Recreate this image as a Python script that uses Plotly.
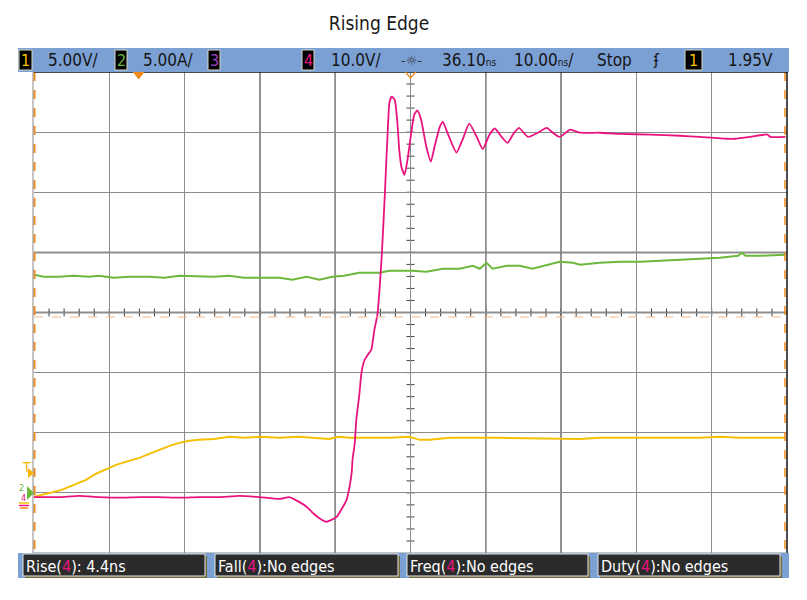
import plotly.graph_objects as go

# ---------------- data (time in ns, volts / amps) ----------------
TIME_CENTER = 36.1      # ns (horizontal position)
TIME_PER_DIV = 10.0     # ns/div
CH1_SCALE = 5.0         # V/div
CH2_SCALE = 5.0         # A/div
CH4_SCALE = 10.0        # V/div
GROUND_DIV = -3         # ground reference, divisions from centre

ch4_t = [-13.9, -10.6, -7.9, -5.3, -2.6, 0.1, 2.7, 5.4, 8.0, 10.7, 13.4, 16.0, 18.7, 20.0,
         21.3, 22.3, 23.1, 24.0, 24.9, 25.6, 26.3, 26.9, 27.6, 28.0, 28.3, 28.4, 28.7, 28.9,
         29.3, 29.6, 30.0, 30.5, 30.9, 31.3, 31.7, 32.3, 32.7, 33.1, 33.3, 33.6, 34.0, 34.4,
         34.6, 34.9, 35.3, 35.7, 36.2, 36.6, 37.0, 37.5, 38.2, 38.8, 39.3, 40.0, 40.4, 41.0,
         42.2, 43.0, 43.9, 44.9, 45.7, 46.6, 47.3, 48.2, 49.0, 49.7, 50.5, 51.7, 53.0, 54.2,
         55.0, 55.9, 57.3, 58.6, 61.2, 63.9, 67.9, 71.9, 74.5, 78.1, 79.2, 81.2, 83.5, 83.9, 85.9]
ch4_v = [-0.7, -0.7, -0.5, -0.7, -0.8, -0.7, -0.7, -0.8, -0.7, -0.7, -0.5, -0.7, -1.0, -0.7,
         -1.5, -2.3, -3.3, -4.2, -4.8, -4.5, -4.0, -2.8, -1.2, 1.0, 3.5, 5.5, 8.3, 12.1,
         16.3, 20.1, 22.1, 23.1, 23.8, 27.1, 29.6, 39.9, 49.9, 60.9, 64.9, 65.9, 65.4, 60.9,
         57.1, 54.2, 52.9, 55.4, 59.9, 62.9, 63.6, 62.1, 57.6, 55.1, 57.6, 60.9, 61.7, 59.9,
         56.6, 58.7, 61.4, 59.2, 57.2, 59.6, 60.6, 59.2, 58.2, 59.6, 60.7, 59.2, 59.9, 60.7,
         59.9, 59.2, 60.4, 59.9, 59.9, 59.7, 59.6, 59.4, 59.2, 58.9, 58.9, 59.2, 59.6, 59.2, 59.2]

ch1_t = [-13.9, -11.9, -10.2, -8.3, -7.0, -5.7, -4.3, -3.0, -1.3, 0.1, 1.4, 2.7, 4.1, 5.4,
         6.7, 8.0, 10.0, 12.0, 14.0, 16.0, 18.7, 21.3, 24.0, 25.3, 26.6, 28.0, 30.7, 33.3,
         36.0, 37.3, 38.6, 41.3, 47.9, 54.6, 58.6, 61.2, 67.9, 74.5, 77.2, 79.9, 82.5, 85.9]
ch1_v = [-0.33, 0.0, 0.25, 0.75, 1.08, 1.58, 2.0, 2.33, 2.66, 2.91, 3.24, 3.58, 3.91, 4.16,
         4.33, 4.41, 4.49, 4.66, 4.58, 4.66, 4.58, 4.66, 4.58, 4.49, 4.66, 4.58, 4.58, 4.58,
         4.66, 4.41, 4.41, 4.58, 4.58, 4.49, 4.49, 4.58, 4.58, 4.58, 4.66, 4.58, 4.58, 4.58]

ch2_t = [-13.9, -12.6, -10.6, -8.6, -6.6, -5.3, -3.3, -1.3, 1.4, 3.4, 5.4, 8.0, 10.0, 12.0,
         14.0, 16.0, 18.7, 20.4, 22.3, 24.0, 25.7, 27.3, 29.3, 32.0, 33.3, 36.4, 38.2, 40.4,
         42.6, 44.4, 45.3, 46.2, 47.0, 48.9, 50.6, 52.3, 54.2, 55.9, 57.7, 58.6, 61.2, 63.9,
         66.6, 69.2, 71.9, 74.5, 77.2, 79.6, 80.1, 80.6, 82.5, 85.9]
ch2_i = [18.14, 17.97, 17.97, 18.05, 17.97, 18.05, 17.89, 17.97, 17.97, 17.89, 18.05, 17.97, 17.97, 18.05,
         17.89, 17.89, 17.89, 17.72, 17.97, 17.72, 17.97, 18.05, 18.30, 18.30, 18.47, 18.47, 18.39, 18.64,
         18.64, 18.89, 18.64, 19.13, 18.64, 18.89, 18.89, 18.64, 18.97, 19.22, 19.13, 18.97, 19.13, 19.22,
         19.22, 19.30, 19.38, 19.47, 19.55, 19.72, 19.97, 19.72, 19.72, 19.80]

TRIGGER_TIME = 0.0
TRIGGER_LEVEL = 1.95

top_labels = ["5.00V/", "5.00A/", "10.0V/", "36.10", "10.00", "Stop", "1.95V"]
meas_labels = ["Rise", "Fall", "Freq", "Duty"]
meas_values = [": 4.4ns", ":No edges", ":No edges", ":No edges"]

# ---------------- styling ----------------
C1 = "#f5c000"
C2 = "#6cb83c"
C3 = "#a040c0"
C4 = "#e8137f"
ORANGE = "#f08a1c"
BLUE = "#7ba0d4"
FONT = "Liberation Sans Narrow, DejaVu Sans Condensed, Arial Narrow, sans-serif"

# screen coordinates (page body has an 8px margin)
OFF = 8
W, H = 807 - 2 * OFF, 600 - 2 * OFF
L, R, T, B = 34, 787, 72, 553


def px(x):
    return (x - L) / (R - L)


def py(y):
    return (B - y) / (B - T)


x_lo = TIME_CENTER - 5 * TIME_PER_DIV
x_hi = TIME_CENTER + 5 * TIME_PER_DIV


def yrange(scale):
    return [(-4 - GROUND_DIV) * scale, (4 - GROUND_DIV) * scale]


fig = go.Figure()
fig.add_trace(go.Scatter(x=ch1_t, y=ch1_v, mode="lines", yaxis="y",
                         line=dict(color=C1, width=2), hoverinfo="skip"))
fig.add_trace(go.Scatter(x=ch2_t, y=ch2_i, mode="lines", yaxis="y2",
                         line=dict(color=C2, width=2), hoverinfo="skip"))
fig.add_trace(go.Scatter(x=ch4_t, y=ch4_v, mode="lines", yaxis="y3",
                         line=dict(color=C4, width=1.8, shape="spline", smoothing=0.5),
                         hoverinfo="skip"))

shapes = []
annotations = []


def prect(x0, y0, x1, y1, fill, line=None, lw=0):
    shapes.append(dict(type="rect", xref="paper", yref="paper",
                       x0=px(x0), x1=px(x1), y0=py(y1), y1=py(y0),
                       fillcolor=fill, line=dict(color=line or fill, width=lw), layer="above"))


def pline(x0, y0, x1, y1, color, w=1, dash=None):
    shapes.append(dict(type="line", xref="paper", yref="paper",
                       x0=px(x0), x1=px(x1), y0=py(y0), y1=py(y1),
                       line=dict(color=color, width=w, dash=dash), layer="above"))


def ptext(x, y, text, color="#151515", size=17, xanchor="left", family=FONT):
    annotations.append(dict(xref="paper", yref="paper", x=px(x), y=py(y), text=text,
                            showarrow=False, xanchor=xanchor, yanchor="middle",
                            font=dict(family=family, size=size, color=color)))


# dark graticule lines
c1 = yrange(CH1_SCALE)
for k in [3, 4, 6, 7]:
    xv = x_lo + k * TIME_PER_DIV
    shapes.append(dict(type="line", xref="x", yref="paper", x0=xv, x1=xv, y0=0, y1=1,
                       line=dict(color="#2a2a2a", width=1.2), layer="below"))
for k in [4, 5]:
    yv = c1[0] + k * CH1_SCALE
    shapes.append(dict(type="line", xref="paper", yref="y", x0=0, x1=1, y0=yv, y1=yv,
                       line=dict(color="#2a2a2a", width=1.5), layer="below"))

# minor ticks on centre lines
yc = (c1[0] + c1[1]) / 2
dy = 4 * (c1[1] - c1[0]) / (B - T)
dx = 4 * (x_hi - x_lo) / (R - L)
for k in range(1, 50):
    xv = x_lo + k * TIME_PER_DIV / 5
    shapes.append(dict(type="line", xref="x", yref="y", x0=xv, x1=xv, y0=yc - dy, y1=yc + dy,
                       line=dict(color="#444", width=1), layer="below"))
for k in range(1, 40):
    yv = c1[0] + k * CH1_SCALE / 5
    shapes.append(dict(type="line", xref="x", yref="y", x0=TIME_CENTER - dx, x1=TIME_CENTER + dx,
                       y0=yv, y1=yv, line=dict(color="#444", width=1), layer="below"))

# cursors
pline(34.5, T, 34.5, B, ORANGE, 2, "dash")
pline(785, T, 785, B, ORANGE, 1.5, "dash")
pline(L, 317, R, 317, "#f5b98a", 1.2, "dash")

# frame
pline(L, T, R + 1, T, "#111", 1.5)
pline(R, T, R, B, "#111", 1.5)
pline(L, B, R, B, "#888", 1)
pline(33, T, 33, B, "#888", 1)

# top marker triangles
shapes.append(dict(type="path", xref="x", yref="paper",
                   path=f"M {TRIGGER_TIME - 0.7},1 L {TRIGGER_TIME + 0.7},1 L {TRIGGER_TIME},{py(79)} Z",
                   fillcolor=ORANGE, line=dict(color=ORANGE, width=1)))
shapes.append(dict(type="path", xref="x", yref="paper",
                   path=f"M {TIME_CENTER - 0.7},1 L {TIME_CENTER},{py(78)} L {TIME_CENTER + 0.7},1",
                   line=dict(color=ORANGE, width=1.2)))

# top status bar
prect(18, 48, 789, 72, BLUE)


def chbox(x0, x1, num, color):
    prect(x0, 50, x1, 70, "#000", "#d6d6c0", 1)
    ptext((x0 + x1) / 2, 60, num, color, 16, "center")


NS = "<span style='font-size:10px'>ns</span>"
chbox(19, 32, "1", C1)
ptext(46, 60, top_labels[0])
chbox(115, 127, "2", C2)
ptext(141, 60, top_labels[1])
chbox(208, 220, "3", C3)
chbox(302, 314, "4", C4)
ptext(329, 60, top_labels[2])
ptext(411, 60, "-☼-", "#333", 13, "center", "DejaVu Sans")
ptext(440, 60, top_labels[3] + NS)
ptext(512, 60, top_labels[4] + NS + "/")
ptext(595, 60, top_labels[5])
ptext(656, 60, "ʄ", "#151515", 15, "center", "DejaVu Sans")
chbox(685, 702, "1", C1)
ptext(726, 60, top_labels[6])

# bottom measurement bar
prect(18, 553, 789, 578, BLUE)
boxes = [(23, 205), (215, 398), (407, 588), (598, 780)]
for (x0, x1), lab, val in zip(boxes, meas_labels, meas_values):
    prect(x0 + 2, 556, x1 + 2, 578, "#6f6a3c")
    prect(x0, 554, x1, 576, "#2b2b2b", "#e8e8e8", 1)
    ptext(x0 + 1, 566, f"{lab}(<span style='color:{C4}'>4</span>){val}", "#ffffff", 16)

# left-side markers
ptext(26, 467, "T", "#f7b500", 14, "center")
shapes.append(dict(type="path", xref="paper", yref="paper",
                   path=f"M {px(28)},{py(468)} L {px(28)},{py(478)} L {px(34)},{py(473)} Z",
                   fillcolor="#f7b500", line=dict(color="#f7b500", width=0)))
shapes.append(dict(type="path", xref="paper", yref="paper",
                   path=f"M {px(27)},{py(486)} L {px(27)},{py(500)} L {px(34)},{py(493)} Z",
                   fillcolor=C2, line=dict(color=C2, width=0)))
ptext(21, 488, "2", C2, 9, "center")
ptext(23, 498, "4", C4, 9, "center")
pline(19, 503, 29, 503, C1, 1.5)
pline(19, 505.5, 29, 505.5, C4, 1.5)
pline(20, 508, 28, 508, ORANGE, 1.5)

fig.update_layout(
    width=W, height=H,
    margin=dict(l=L - OFF, r=W - (R - OFF), t=T - OFF, b=H - (B - OFF), pad=0),
    paper_bgcolor="white", plot_bgcolor="white",
    showlegend=False,
    title=dict(text="Rising Edge", xref="paper", x=px(379), xanchor="center",
               yref="container", y=1 - (23 - OFF) / H, yanchor="middle",
               font=dict(family=FONT, size=19, color="#1a1a1a")),
    xaxis=dict(range=[x_lo, x_hi], tick0=x_lo, dtick=TIME_PER_DIV, showgrid=True,
               gridcolor="#8c8c8c", gridwidth=1, showticklabels=False, ticks="",
               zeroline=False, showline=False),
    yaxis=dict(range=yrange(CH1_SCALE), tick0=0, dtick=CH1_SCALE, showgrid=True,
               gridcolor="#8c8c8c", gridwidth=1, showticklabels=False, ticks="",
               zeroline=False, showline=False),
    yaxis2=dict(range=yrange(CH2_SCALE), overlaying="y", visible=False),
    yaxis3=dict(range=yrange(CH4_SCALE), overlaying="y", visible=False),
    shapes=shapes,
    annotations=annotations,
)

fig.write_html("out.html")
